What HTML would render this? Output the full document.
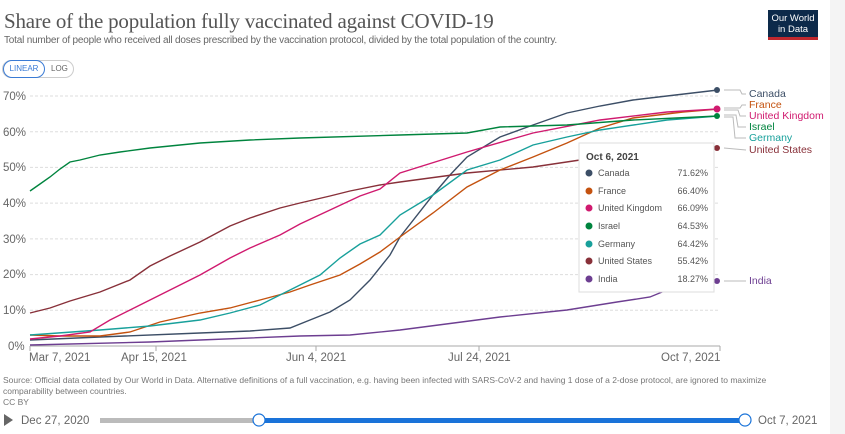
<!DOCTYPE html>
<html><head><meta charset="utf-8"><style>
body{margin:0;background:#fff;font-family:"Liberation Sans",sans-serif;}
.w{position:relative;width:845px;height:434px;overflow:hidden;}
</style></head><body><div class="w">
<div style="position:absolute;left:830px;top:0;width:15px;height:434px;background:#f4f4f4"></div>
<div style="position:absolute;left:4px;top:9px;font-family:'Liberation Serif',serif;font-size:21px;color:#555;letter-spacing:-0.2px">Share of the population fully vaccinated against COVID-19</div>
<div style="position:absolute;left:4px;top:35px;font-size:10px;color:#666;letter-spacing:-0.2px">Total number of people who received all doses prescribed by the vaccination protocol, divided by the total population of the country.</div>
<div style="position:absolute;left:768px;top:10px;width:50px;height:30px;background:#0d2a4a;color:#fff;font-size:9.5px;text-align:center;line-height:11px;padding-top:3px;box-sizing:border-box;border-bottom:3px solid #c0282e">Our World<br>in Data</div>
<div style="position:absolute;left:2px;top:60px;width:70px;height:16px;border:1px solid #ccc;border-radius:9px;font-size:8px;"><span style="position:absolute;left:0;top:-1px;width:40px;height:16px;border:1px solid #3a7bd5;border-radius:9px;color:#3a7bd5;text-align:center;line-height:16px">LINEAR</span><span style="position:absolute;left:48px;top:0;line-height:16px;color:#666">LOG</span></div>
<svg width="845" height="434" style="position:absolute;left:0;top:0" font-family="Liberation Sans, sans-serif">
<g stroke="#ddd" stroke-dasharray="3,2" stroke-width="1">
<line x1="30" x2="718" y1="96" y2="96"/><line x1="30" x2="718" y1="131.7" y2="131.7"/><line x1="30" x2="718" y1="167.4" y2="167.4"/><line x1="30" x2="718" y1="203.1" y2="203.1"/><line x1="30" x2="718" y1="238.9" y2="238.9"/><line x1="30" x2="718" y1="274.6" y2="274.6"/><line x1="30" x2="718" y1="310.3" y2="310.3"/>
</g>
<line x1="30" x2="720" y1="346" y2="346" stroke="#aaa"/>
<g stroke="#aaa"><line x1="30" x2="30" y1="346" y2="351"/><line x1="156" x2="156" y1="346" y2="351"/><line x1="316" x2="316" y1="346" y2="351"/><line x1="479" x2="479" y1="346" y2="351"/><line x1="720" x2="720" y1="346" y2="351"/></g>
<g font-size="11.5" fill="#666">
<text x="3" y="100">70%</text><text x="3" y="136">60%</text><text x="3" y="171">50%</text><text x="3" y="207">40%</text><text x="3" y="243">30%</text><text x="3" y="278">20%</text><text x="3" y="314">10%</text><text x="8" y="350">0%</text>
<text x="29" y="361">Mar 7, 2021</text><text x="121" y="361">Apr 15, 2021</text><text x="286" y="361">Jun 4, 2021</text><text x="448" y="361">Jul 24, 2021</text><text x="661" y="361">Oct 7, 2021</text>
</g>
<g fill="none" stroke-width="1.4">
<polyline stroke="#6d3e91" points="30,345 150,342 200,340 300,336 350,335 400,330 500,317 567,310 617,302 650,297 667,290 718,281"/>
<polyline stroke="#3c4e66" points="30,340 100,337 200,333 250,331 290,328 310,320 330,312 350,300 370,280 390,255 400,237 433,195 450,175 467,157 500,137 533,125 567,113 600,106 633,100 718,90"/>
<polyline stroke="#883039" points="30,313 50,308 70,301 100,292 130,280 150,266 170,256 200,242 230,226 250,218 280,208 300,203 330,196 350,191 380,185 400,182 467,173 533,167 580,160 718,148"/>
<polyline stroke="#c4520f" points="30,335 60,336 100,336 130,332 160,322 200,313 230,308 260,300 290,292 310,285 340,275 360,264 380,252 400,237 433,213 467,187 500,170 533,157 567,143 600,128 633,118 683,112 718,109"/>
<polyline stroke="#18a09b" points="30,335 100,330 150,326 200,320 230,313 260,305 290,290 320,275 340,258 360,244 380,235 400,215 433,195 467,170 500,160 533,145 567,137 600,130 667,120 718,116"/>
<polyline stroke="#d01a6f" points="30,339 60,336 90,332 110,320 130,310 150,300 170,290 200,275 230,258 250,248 280,235 300,224 330,210 360,196 380,189 400,173 467,152 533,133 600,120 667,112 718,109"/>
<polyline stroke="#00843e" points="30,191 40,184 50,177 60,169 70,162 80,160 100,155 120,152 150,148 200,143 250,140 300,138 400,135 467,133 500,127 567,125 633,120 718,116"/>
</g>
<circle cx="717" cy="90" r="3" fill="#3c4e66"/><circle cx="717" cy="109" r="3.5" fill="#d01a6f"/><circle cx="717" cy="116" r="3" fill="#00843e"/><circle cx="717" cy="148" r="3" fill="#883039"/><circle cx="717" cy="281" r="3" fill="#6d3e91"/>
<g stroke="#bbb" fill="none"><polyline points="724,90 740,90 742,94 746,94"/><polyline points="724,108 740,108 742,105 746,105"/><polyline points="724,110 738,110 740,116 746,116"/><polyline points="724,115 736,115 738,127 746,127"/><polyline points="724,117 733,117 735,138 746,138"/><polyline points="724,148 746,150"/><line x1="724" x2="746" y1="281" y2="281"/></g>
<g font-size="10.5"><text x="749" y="97" fill="#3c4e66">Canada</text><text x="749" y="108" fill="#c4520f">France</text><text x="749" y="119" fill="#d01a6f">United Kingdom</text><text x="749" y="130" fill="#00843e">Israel</text><text x="749" y="141" fill="#18a09b">Germany</text><text x="749" y="153" fill="#883039">United States</text><text x="749" y="284" fill="#6d3e91">India</text></g>
<rect x="579" y="143" width="135" height="149" fill="#fff" stroke="#ddd"/>
<text x="586" y="160" font-size="10" font-weight="bold" fill="#444">Oct 6, 2021</text>
<g font-size="9" fill="#555">
<circle cx="589" cy="173" r="3.5" fill="#3c4e66"/><text x="598" y="176">Canada</text><text x="708" y="176" text-anchor="end">71.62%</text>
<circle cx="589" cy="191" r="3.5" fill="#c4520f"/><text x="598" y="194">France</text><text x="708" y="194" text-anchor="end">66.40%</text>
<circle cx="589" cy="208" r="3.5" fill="#d01a6f"/><text x="598" y="211">United Kingdom</text><text x="708" y="211" text-anchor="end">66.09%</text>
<circle cx="589" cy="226" r="3.5" fill="#00843e"/><text x="598" y="229">Israel</text><text x="708" y="229" text-anchor="end">64.53%</text>
<circle cx="589" cy="244" r="3.5" fill="#18a09b"/><text x="598" y="247">Germany</text><text x="708" y="247" text-anchor="end">64.42%</text>
<circle cx="589" cy="261" r="3.5" fill="#883039"/><text x="598" y="264">United States</text><text x="708" y="264" text-anchor="end">55.42%</text>
<circle cx="589" cy="279" r="3.5" fill="#6d3e91"/><text x="598" y="282">India</text><text x="708" y="282" text-anchor="end">18.27%</text>
</g>
<g font-size="8.5" fill="#777"><text x="3" y="383">Source: Official data collated by Our World in Data. Alternative definitions of a full vaccination, e.g. having been infected with SARS-CoV-2 and having 1 dose of a 2-dose protocol, are ignored to maximize</text><text x="3" y="394">comparability between countries.</text><text x="3" y="405">CC BY</text></g>
<polygon points="4,414 4,426 13,420" fill="#666"/>
<text x="21" y="424" font-size="11.5" fill="#666">Dec 27, 2020</text>
<rect x="100" y="418" width="160" height="5" fill="#bbb"/>
<rect x="259" y="418" width="486" height="5" fill="#1a73d9"/>
<circle cx="259" cy="420" r="6" fill="#fff" stroke="#1a73d9" stroke-width="1.2"/>
<circle cx="745" cy="420" r="6" fill="#fff" stroke="#1a73d9" stroke-width="1.2"/>
<text x="758" y="424" font-size="11.5" fill="#666">Oct 7, 2021</text>
</svg>
</div></body></html>
